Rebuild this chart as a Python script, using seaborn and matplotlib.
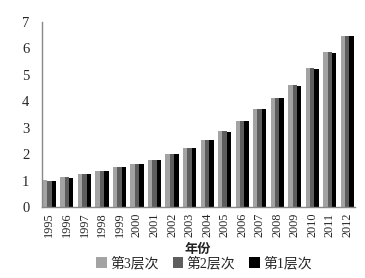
import matplotlib
matplotlib.use("Agg")
import matplotlib.pyplot as plt
import seaborn as sns
import pandas as pd
import numpy as np
from matplotlib.ticker import FixedLocator

years = [str(y) for y in range(1995, 2013)]
level3 = [1.02, 1.12, 1.25, 1.36, 1.51, 1.64, 1.79, 2.00, 2.23, 2.55, 2.86, 3.27, 3.71, 4.14, 4.60, 5.25, 5.85, 6.48]
level2 = [1.00, 1.12, 1.25, 1.36, 1.51, 1.64, 1.79, 2.00, 2.23, 2.55, 2.86, 3.27, 3.71, 4.14, 4.60, 5.25, 5.85, 6.48]
level1 = [0.98, 1.11, 1.24, 1.35, 1.50, 1.63, 1.78, 1.99, 2.22, 2.54, 2.85, 3.26, 3.70, 4.13, 4.59, 5.24, 5.84, 6.47]
series_names = ["第3层次", "第2层次", "第1层次"]
colors = ["#a3a3a3", "#5e5e5e", "#000000"]

df = pd.DataFrame({
    "年份": years * 3,
    "值": level3 + level2 + level1,
    "层次": [series_names[0]] * len(years) + [series_names[1]] * len(years) + [series_names[2]] * len(years),
})

sns.set_theme(style="white")
plt.rcParams["font.family"] = ["Liberation Serif", "Noto Sans CJK SC"]

fig = plt.figure(figsize=(3.65, 2.78), dpi=100)
ax = fig.add_axes([42/365, 1 - 207/278, 313/365, 185/278])

sns.barplot(data=df, x="年份", y="值", hue="层次", palette=colors, width=0.75,
            saturation=1, ax=ax, legend=True, edgecolor="none")

ax.set_ylim(0, 7)
ax.set_xlim(-0.42, len(years) - 0.56)
ax.set_yticks(range(0, 8))
ax.tick_params(axis="y", direction="in", length=4, color="#888888", labelsize=10.5, pad=9)
ax.tick_params(axis="x", which="major", length=0, labelsize=8.8, pad=4)
ax.xaxis.set_minor_locator(FixedLocator(np.arange(0.5, len(years) - 1, 1.0)))
ax.tick_params(axis="x", which="minor", direction="in", length=4, color="#888888", width=1)
for lbl in ax.get_xticklabels():
    lbl.set_rotation(90)

for s in ["top", "right"]:
    ax.spines[s].set_visible(False)
for s in ["left", "bottom"]:
    ax.spines[s].set_color("#888888")
    ax.spines[s].set_linewidth(1)

ax.set_ylabel("")
ax.set_xlabel("")
fig.text(198/365, 1 - 248.5/278, "年份", ha="center", va="center", fontsize=9.5,
         family=["Noto Sans CJK SC"], fontweight="bold", color="#222222")

handles, labels = ax.get_legend_handles_labels()
fig.legend(handles, labels, loc="center", bbox_to_anchor=(204/365, 1 - 263.5/278), ncol=3, frameon=False,
           handlelength=0.75, handleheight=0.75, handletextpad=0.25, columnspacing=1.0,
           prop={"family": ["Liberation Serif", "Noto Sans CJK SC"], "size": 10})
ax.get_legend().remove()

fig.savefig("out.png", dpi=100)
